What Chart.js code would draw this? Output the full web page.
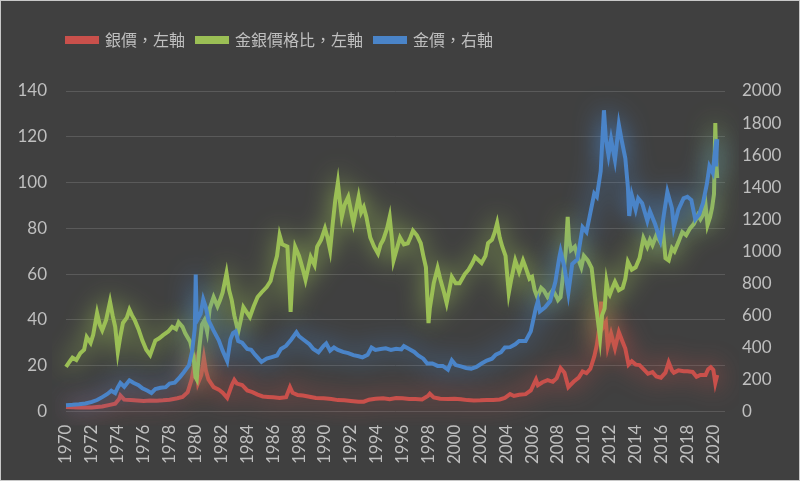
<!DOCTYPE html>
<html>
<head>
<meta charset="utf-8">
<script src="https://cdn.jsdelivr.net/npm/chart.js@4.4.1/dist/chart.umd.min.js"></script>
<style>
  html, body { margin: 0; padding: 0; background: #404040; }
  #wrap {
    width: 800px; height: 481px; position: relative;
    background: #404040; box-shadow: inset 0 0 0 1px #c8c8c8;
  }
</style>
</head>
<body>
<div id="wrap"><canvas id="chart"></canvas></div>
<script>
const seriesNames = ['銀價，左軸', '金銀價格比，左軸', '金價，右軸'];
const seriesColors = ['#c9504b', '#9bbf55', '#4a84c8'];

const xTickYears = [1970, 1972, 1974, 1976, 1978, 1980, 1982, 1984, 1986, 1988, 1990,
  1992, 1994, 1996, 1998, 2000, 2002, 2004, 2006, 2008, 2010, 2012, 2014, 2016, 2018, 2020];
const leftTicks = [0, 20, 40, 60, 80, 100, 120, 140];
const rightTicks = [0, 200, 400, 600, 800, 1000, 1200, 1400, 1600, 1800, 2000];

// silver, USD/oz (left axis)
const silverYears = [1970.0, 1971.0, 1972.0, 1972.8, 1973.3, 1973.8, 1974.1, 1974.2, 1974.5, 1975.0,
  1975.5, 1976.0, 1976.5, 1977.0, 1977.5, 1978.0, 1978.6, 1979.0, 1979.4, 1979.7,
  1979.9, 1980.0, 1980.2, 1980.45, 1980.65, 1980.8, 1981.0, 1981.4, 1981.8, 1982.1,
  1982.45, 1982.8, 1983.0, 1983.2, 1983.6, 1984.0, 1984.4, 1984.8, 1985.2, 1985.6,
  1986.0, 1986.5, 1987.0, 1987.3, 1987.5, 1987.9, 1988.3, 1988.8, 1989.3, 1989.9,
  1990.5, 1991.0, 1991.5, 1992.0, 1992.6, 1993.0, 1993.4, 1993.9, 1994.5, 1995.0,
  1995.5, 1996.0, 1996.5, 1997.0, 1997.5, 1997.95, 1998.1, 1998.4, 1998.9, 1999.5,
  2000.0, 2000.5, 2001.0, 2001.5, 2002.0, 2002.5, 2003.0, 2003.5, 2003.9, 2004.3,
  2004.6, 2005.0, 2005.5, 2005.9, 2006.3, 2006.45, 2006.8, 2007.2, 2007.6, 2007.9,
  2008.2, 2008.5, 2008.8, 2009.2, 2009.6, 2009.9, 2010.2, 2010.5, 2010.8, 2011.0,
  2011.2, 2011.33, 2011.45, 2011.7, 2011.85, 2012.1, 2012.4, 2012.7, 2012.95, 2013.2,
  2013.45, 2013.7, 2014.0, 2014.3, 2014.7, 2014.95, 2015.3, 2015.6, 2015.95, 2016.3,
  2016.55, 2016.8, 2016.95, 2017.3, 2017.7, 2018.0, 2018.4, 2018.7, 2019.0, 2019.4,
  2019.6, 2019.8, 2020.0, 2020.15, 2020.3];
const silverPrice = [2.0, 1.8, 1.8, 2.2, 2.8, 3.4, 5.5, 7.0, 5.2, 5.0,
  4.8, 4.6, 4.8, 4.7, 4.9, 5.2, 5.8, 6.4, 8.5, 14,
  20, 22, 12.5, 16, 23.5, 18, 14, 10.7, 9.6, 8.2,
  6.0, 11.5, 13.8, 12.2, 11.6, 9.2, 8.5, 7.4, 6.6, 6.4,
  6.2, 5.9, 6.3, 10.7, 8.2, 7.2, 7.0, 6.5, 5.9, 5.8,
  5.5, 5.0, 4.9, 4.6, 4.3, 4.3, 5.2, 5.6, 5.8, 5.4,
  5.9, 5.8, 5.5, 5.5, 5.3, 6.8, 7.8, 6.2, 5.6, 5.5,
  5.6, 5.4, 5.0, 4.8, 4.9, 5.1, 5.1, 5.3, 6.0, 7.6,
  6.8, 7.3, 7.6, 9.2, 14.0, 11.5, 12.8, 13.7, 13.0, 14.6,
  19.0, 17.0, 10.7, 13.0, 14.8, 17.5, 16.8, 18.7, 24, 29,
  37, 48, 36.5, 39, 28.5, 34, 27.7, 34.7, 31, 27.5,
  20.5, 22, 20.5, 20.3, 18.0, 16.5, 17.2, 15.3, 14.8, 17.0,
  21.5, 18.0, 17.0, 18.0, 17.6, 17.6, 17.3, 15.2, 16.0, 16.0,
  18.5, 19.4, 18.2, 12.5, 16.0];

// gold / silver ratio (left axis)
const ratioYears = [1970.0, 1970.3, 1970.5, 1970.8, 1971.1, 1971.4, 1971.6, 1971.9, 1972.1, 1972.4,
  1972.6, 1972.8, 1973.1, 1973.4, 1973.6, 1973.8, 1974.0, 1974.2, 1974.4, 1974.7,
  1974.9, 1975.1, 1975.3, 1975.6, 1975.9, 1976.2, 1976.5, 1976.9, 1977.2, 1977.5,
  1977.9, 1978.2, 1978.5, 1978.7, 1979.0, 1979.2, 1979.6, 1979.85, 1980.0, 1980.1,
  1980.3, 1980.5, 1980.7, 1980.9, 1981.1, 1981.4, 1981.7, 1981.9, 1982.1, 1982.4,
  1982.6, 1982.8, 1983.0, 1983.3, 1983.5, 1983.7, 1984.0, 1984.2, 1984.5, 1984.8,
  1985.1, 1985.5, 1985.8, 1986.0, 1986.3, 1986.5, 1986.7, 1987.1, 1987.25, 1987.35,
  1987.5, 1987.7, 1988.0, 1988.3, 1988.5, 1988.9, 1989.2, 1989.4, 1989.7, 1990.0,
  1990.2, 1990.4, 1990.6, 1990.8, 1991.0, 1991.15, 1991.3, 1991.5, 1991.8, 1992.0,
  1992.2, 1992.4, 1992.6, 1992.8, 1993.0, 1993.2, 1993.5, 1993.8, 1994.1, 1994.3,
  1994.5, 1994.8, 1995.0, 1995.2, 1995.3, 1995.5, 1995.8, 1996.1, 1996.4, 1996.6,
  1996.8, 1997.1, 1997.4, 1997.6, 1997.8, 1998.0, 1998.1, 1998.4, 1998.7, 1998.9,
  1999.2, 1999.4, 1999.6, 1999.8, 2000.1, 2000.4, 2000.8, 2001.1, 2001.4, 2001.6,
  2002.1, 2002.4, 2002.6, 2002.9, 2003.1, 2003.3, 2003.5, 2003.7, 2003.95, 2004.2,
  2004.4, 2004.7, 2005.0, 2005.3, 2005.5, 2005.8, 2006.0, 2006.2, 2006.4, 2006.7,
  2006.9, 2007.2, 2007.6, 2007.9, 2008.0, 2008.2, 2008.4, 2008.6, 2008.75, 2008.85,
  2009.0, 2009.3, 2009.6, 2009.8, 2010.0, 2010.3, 2010.6, 2010.85, 2011.0, 2011.25,
  2011.4, 2011.6, 2011.75, 2011.9, 2012.0, 2012.2, 2012.4, 2012.7, 2013.0, 2013.2,
  2013.4, 2013.7, 2014.0, 2014.3, 2014.6, 2014.9, 2015.1, 2015.3, 2015.6, 2015.9,
  2016.1, 2016.3, 2016.55, 2016.8, 2017.0, 2017.3, 2017.6, 2017.9, 2018.2, 2018.5,
  2018.8, 2019.0, 2019.2, 2019.4, 2019.55, 2019.75, 2019.9, 2020.05, 2020.15, 2020.22,
  2020.3];
const goldSilverRatio = [19.5, 22, 23.5, 22.5, 25.5, 27, 32.5, 30, 33.5, 43,
  38, 35.5, 40, 48, 42, 37, 26, 33, 38.7, 41,
  44.5, 42, 40, 36, 31, 27, 24.7, 31, 32, 33.4,
  35, 37, 36, 39, 37, 34.3, 30.4, 24, 15, 14,
  28, 38, 40, 35, 45, 50, 46, 48.7, 52, 60.5,
  53, 48.7, 42, 34.8, 40, 45.6, 43, 41.3, 46, 50,
  52, 54.4, 57, 61.8, 68, 77, 73, 72, 56, 43.5,
  60, 72, 68, 62, 57.5, 67.5, 64, 72, 75, 80,
  76, 70.5, 82, 92.4, 100, 92, 85, 90, 93.7, 88,
  82.3, 88, 93.7, 87, 89.3, 85, 76, 72, 69, 73,
  75, 80, 85, 74, 66, 70, 76, 73, 73.5, 76,
  79, 77, 73.5, 68, 63, 38.6, 45, 56, 62.7, 58,
  52, 47.4, 53, 58.8, 56, 56, 60, 62, 65, 67.5,
  64.9, 68, 73.6, 75, 78, 82.3, 76, 72, 68, 51.8,
  58, 66, 61, 66, 63, 58, 58.8, 53, 50, 54,
  53, 50, 53, 50, 48.7, 50, 60, 70, 85, 75,
  70.5, 72, 66, 63, 68, 66, 62.7, 50, 43.5, 32,
  42, 45, 56.6, 52, 51, 54, 56.6, 53, 54, 58,
  65.4, 62, 63, 67, 75.8, 72, 75, 72.7, 77, 74,
  80, 67, 66, 71.4, 70, 74, 78.4, 77, 80, 82,
  85.8, 84, 86, 90.2, 81.5, 85, 88.9, 95, 126, 110,
  102];

// gold, USD/oz (right axis)
const goldYears = [1970.0, 1970.5, 1971.0, 1971.5, 1972.0, 1972.4, 1972.8, 1973.2, 1973.5, 1973.8,
  1974.0, 1974.2, 1974.5, 1974.9, 1975.2, 1975.6, 1975.9, 1976.3, 1976.6, 1976.9,
  1977.3, 1977.7, 1978.0, 1978.4, 1978.8, 1979.1, 1979.5, 1979.75, 1979.95, 1980.02,
  1980.08, 1980.2, 1980.4, 1980.6, 1980.8, 1981.0, 1981.4, 1981.8, 1982.1, 1982.45,
  1982.7, 1982.9, 1983.1, 1983.3, 1983.6, 1984.0, 1984.3, 1984.6, 1985.1, 1985.5,
  1985.9, 1986.3, 1986.6, 1987.0, 1987.4, 1987.8, 1988.0, 1988.4, 1988.8, 1989.1,
  1989.5, 1989.9, 1990.1, 1990.4, 1990.7, 1991.0, 1991.4, 1991.8, 1992.2, 1992.6,
  1992.9, 1993.3, 1993.6, 1993.9, 1994.3, 1994.7, 1995.1, 1995.5, 1995.9, 1996.1,
  1996.5, 1996.9, 1997.2, 1997.6, 1997.9, 1998.3, 1998.7, 1999.1, 1999.5, 1999.8,
  2000.1, 2000.5, 2000.9, 2001.3, 2001.7, 2002.1, 2002.5, 2002.9, 2003.2, 2003.6,
  2003.9, 2004.3, 2004.7, 2005.0, 2005.5, 2005.9, 2006.3, 2006.45, 2006.6, 2007.0,
  2007.4, 2007.8, 2008.1, 2008.2, 2008.5, 2008.8, 2009.1, 2009.5, 2009.9, 2010.2,
  2010.5, 2010.8, 2011.0, 2011.3, 2011.55, 2011.7, 2011.9, 2012.1, 2012.4, 2012.7,
  2012.9, 2013.2, 2013.4, 2013.5, 2013.7, 2014.0, 2014.2, 2014.5, 2014.9, 2015.1,
  2015.5, 2015.9, 2016.2, 2016.45, 2016.8, 2016.95, 2017.3, 2017.7, 2018.0, 2018.3,
  2018.6, 2018.9, 2019.2, 2019.5, 2019.7, 2019.95, 2020.1, 2020.2, 2020.3];
const goldPrice = [40, 42, 45, 50, 60, 72, 90, 110, 130, 115,
  150, 178, 155, 195, 180, 165, 145, 130, 116, 140,
  148, 152, 175, 180, 215, 245, 290, 380, 520, 855,
  630, 580, 610, 700, 650, 570, 505, 445, 380, 315,
  450, 490, 500, 440, 430, 390, 385, 355, 310, 330,
  340, 350, 390, 410, 450, 495, 470, 445, 420, 390,
  370, 410, 425, 380, 400, 385, 372, 365, 352, 345,
  338, 355, 400, 385, 390, 395, 385, 392, 388, 408,
  390, 372, 350, 330, 300, 300, 285, 285, 262, 320,
  290, 282, 272, 268, 278, 300, 318, 330, 355, 370,
  400, 402, 420, 440, 440, 500, 650, 690, 625, 650,
  690, 810, 960, 1000, 900, 740, 920, 950, 1150, 1120,
  1240, 1360, 1340, 1500, 1880, 1700, 1600, 1700, 1570, 1790,
  1700, 1580, 1400, 1220, 1350, 1260, 1330, 1300, 1190, 1250,
  1170, 1070, 1240, 1370, 1270, 1150, 1260, 1330, 1340, 1320,
  1200, 1230, 1300, 1420, 1530, 1490, 1600, 1530, 1700];

const tickFont = { family: 'Lato, "Noto Sans", sans-serif', size: 17 };
const textColor = '#bfbfbf';
const gridColor = '#5a5a5a';

function points(xs, ys) {
  return xs.map((x, i) => ({ x: x, y: ys[i] }));
}

// soft coloured glow under each line
const glowPlugin = {
  id: 'glow',
  beforeDatasetDraw(chart, args) {
    const ctx = chart.ctx;
    ctx.save();
    ctx.shadowColor = seriesColors[args.index];
    ctx.shadowBlur = 24;
  },
  afterDatasetDraw(chart) {
    chart.ctx.restore();
  }
};

// move the legend to where the original sits (left-ish, higher up)
const legendPlace = {
  id: 'legendPlace',
  afterLayout(chart) {
    const lg = chart.legend;
    lg.left += 38; lg.right += 38;
    lg.top -= 33; lg.bottom -= 33;
  }
};

function makeSet(i, xs, ys, axis, order) {
  return {
    label: seriesNames[i],
    data: points(xs, ys),
    yAxisID: axis,
    borderColor: seriesColors[i],
    backgroundColor: seriesColors[i],
    borderWidth: 4,
    pointRadius: 0,
    tension: 0,
    order: order,
    clip: 14
  };
}

const ctx = document.getElementById('chart').getContext('2d');
new Chart(ctx, {
  type: 'line',
  data: {
    datasets: [
      makeSet(0, silverYears, silverPrice, 'y', 3),
      makeSet(1, ratioYears, goldSilverRatio, 'y', 2),
      makeSet(2, goldYears, goldPrice, 'y1', 1)
    ]
  },
  options: {
    responsive: true,
    maintainAspectRatio: false,
    animation: false,
    layout: { padding: { top: 53, left: 17, right: 18, bottom: 4 } },
    scales: {
      x: {
        type: 'linear',
        min: 1970,
        max: 2020.9,
        afterBuildTicks: scale => { scale.ticks = xTickYears.map(v => ({ value: v })); },
        grid: { display: false, drawTicks: false },
        border: { display: false },
        ticks: {
          color: textColor, font: tickFont, padding: 13,
          autoSkip: false, minRotation: 90, maxRotation: 90,
          callback: v => String(v)
        }
      },
      y: {
        position: 'left',
        min: 0,
        max: 140,
        afterBuildTicks: scale => { scale.ticks = leftTicks.map(v => ({ value: v })); },
        afterFit: scale => { scale.width = 49; },
        grid: { color: gridColor, lineWidth: 1, drawTicks: false },
        border: { display: false },
        ticks: { color: textColor, font: tickFont, padding: 19 }
      },
      y1: {
        position: 'right',
        min: 0,
        max: 2000,
        afterBuildTicks: scale => { scale.ticks = rightTicks.map(v => ({ value: v })); },
        afterFit: scale => { scale.width = 57; },
        grid: { display: false, drawTicks: false },
        border: { display: false },
        ticks: { color: textColor, font: tickFont, padding: 17, callback: v => String(v) }
      }
    },
    plugins: {
      legend: {
        position: 'top',
        align: 'start',
        labels: {
          color: textColor,
          font: { family: '"Noto Sans CJK TC", "Noto Sans CJK SC", sans-serif', size: 16 },
          boxWidth: 30,
          boxHeight: 4,
          padding: 12,
          sort: (a, b) => a.datasetIndex - b.datasetIndex
        }
      },
      tooltip: { enabled: false }
    }
  },
  plugins: [glowPlugin, legendPlace]
});
</script>
</body>
</html>
